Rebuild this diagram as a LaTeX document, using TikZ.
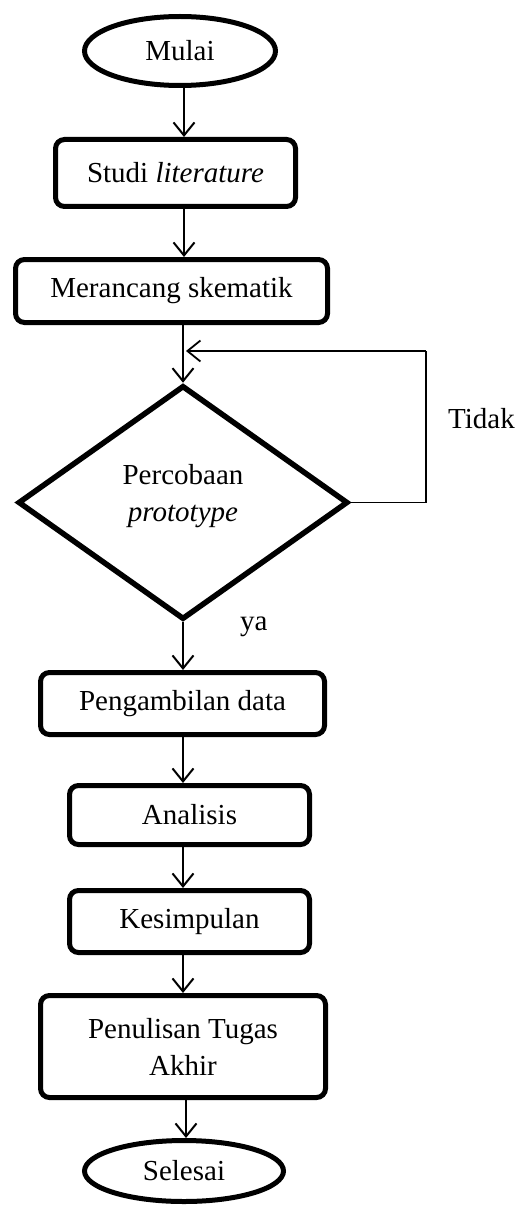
\documentclass[tikz,border=0pt]{standalone}
\usepackage{fontspec}
\setmainfont{Liberation Serif}
\usetikzlibrary{shapes.geometric,arrows.meta}
\begin{document}
\begin{tikzpicture}[x=1pt,y=-1pt,
  txt/.style={font=\fontsize{29}{37}\selectfont, align=center, inner sep=0pt},
  term/.style={txt, ellipse, draw, line width=5pt},
  proc/.style={txt, rectangle, rounded corners=9pt, draw, line width=5pt},
  dec/.style={diamond, draw, line width=5.5pt, inner sep=0pt},
  arr/.style={line width=2pt, -{Straight Barb[length=13pt,width=21pt,line width=2pt]}},
  loopline/.style={line width=1.8pt}]
\useasboundingbox (0,0) rectangle (519,1206);

\node[term, minimum width=191pt, minimum height=69pt] (mulai) at (180,51) {Mulai};
\node[proc, minimum width=240pt, minimum height=67pt] (studi) at (175.5,173) {Studi \textit{literature}};
\node[proc, minimum width=312pt, minimum height=63pt] (rancang) at (171.5,291) {Merancang skematik};
\node[dec, minimum width=330pt, minimum height=234pt] (dia) at (183,502.5) {};
\node[txt] (diatext) at (183,496) {Percobaan\\\textit{prototype}};
\node[proc, minimum width=284pt, minimum height=62pt] (ambil) at (182.5,703.5) {Pengambilan data};
\node[proc, minimum width=240pt, minimum height=59pt] (analisis) at (189.5,815) {Analisis};
\node[proc, minimum width=240pt, minimum height=62pt] (simpul) at (189.5,921.5) {Kesimpulan};
\node[proc, minimum width=285pt, minimum height=102pt] (tulis) at (183,1046.5) {Penulisan Tugas\\Akhir};
\node[term, minimum width=199pt, minimum height=61pt] (selesai) at (184,1171) {Selesai};

\node[txt, anchor=base west] (tidak) at (448,428) {Tidak};
\node[txt, anchor=base west] (ya) at (240,630) {ya};

\coordinate (ta) at (184,0);
\coordinate (tb) at (183,0);
\coordinate (tc) at (186,0);
\coordinate (fbc) at (426,351);
\coordinate (fbend) at (186,351);

\draw[arr] (ta |- mulai.south) -- (ta |- studi.north);
\draw[arr] (ta |- studi.south) -- (ta |- rancang.north);
\draw[arr] (tb |- rancang.south) -- (dia.north);
\draw[arr] (dia.south) -- (tb |- ambil.north);
\draw[arr] (tb |- ambil.south) -- (tb |- analisis.north);
\draw[arr] (tb |- analisis.south) -- (tb |- simpul.north);
\draw[arr] (tb |- simpul.south) -- (tb |- tulis.north);
\draw[arr] (tc |- tulis.south) -- (tc |- selesai.north);
\draw[loopline] (dia.east) -| (fbc);
\draw[loopline, -{Straight Barb[length=13pt,width=21pt,line width=1.8pt]}] (fbc) -- (fbend);
\end{tikzpicture}
\end{document}
